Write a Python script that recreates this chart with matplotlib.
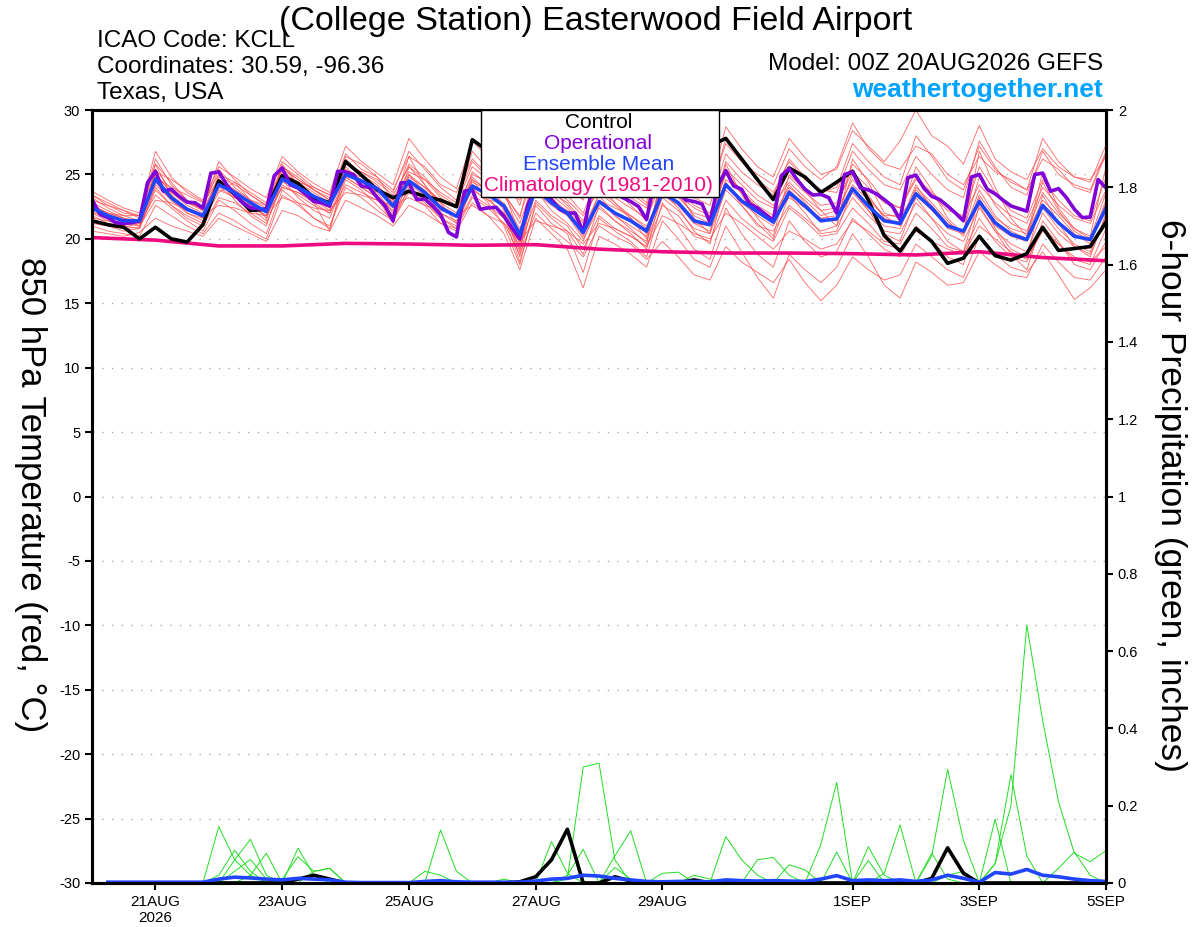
import numpy as np
import pandas as pd
import matplotlib
matplotlib.use("Agg")
import matplotlib.pyplot as plt
from matplotlib.patches import Rectangle

plt.rcParams['font.family'] = ['Liberation Sans', 'DejaVu Sans']
plt.rcParams['axes.unicode_minus'] = False

# 6-hourly times (GEFS), 3-hourly for the operational run, daily climatology
times = pd.date_range('2026-08-20 00:00', periods=65, freq='6h')
times_op = pd.date_range('2026-08-20 00:00', periods=129, freq='3h')
times_clim = pd.date_range('2026-08-20', periods=17, freq='D')

tick_dates = pd.to_datetime(['2026-08-21', '2026-08-23', '2026-08-25', '2026-08-27',
                             '2026-08-29', '2026-09-01', '2026-09-03', '2026-09-05'])
tick_labels = ['21AUG\n2026', '23AUG', '25AUG', '27AUG', '29AUG', '1SEP', '3SEP', '5SEP']

# 850 hPa temperature (C)
control_t = [21.4, 21.1, 20.9, 20.0, 20.9, 20.0, 19.75, 21.1,
             24.5, 23.45, 22.2, 22.3, 24.9, 24.3, 23.2, 22.8,
             26.0, 24.95, 23.8, 23.2, 23.7, 23.3, 23.0, 22.5,
             27.7, 26.8, 25.6, 24.4, 26.2, 25.5, 24.8, 24.0,
             25.6, 24.9, 24.3, 23.8, 26.0, 25.5, 25.8, 27.2,
             27.8, 26.2, 24.6, 23.05, 25.5, 24.8, 23.6, 24.4,
             25.25, 23.0, 20.25, 19.05, 20.8, 19.8, 18.1, 18.5,
             20.2, 18.7, 18.35, 18.85, 20.9, 19.1, 19.25, 19.4,
             21.3]

operational_t = [23.05, 21.9, 21.65, 21.25, 21.2, 21.25, 21.4, 24.35,
                 25.25, 23.7, 23.85, 23.3, 22.85, 22.8, 22.4, 25.1,
                 25.2, 24.2, 23.45, 22.8, 22.4, 22.35, 22.25, 24.9,
                 25.5, 24.2, 23.95, 23.45, 22.9, 22.8, 22.55, 25.25,
                 25.2, 25.0, 24.1, 24.0, 23.2, 22.55, 21.4, 24.35,
                 24.35, 23.05, 23.1, 22.55, 21.9, 20.5, 20.15, 23.7,
                 23.8, 22.3, 22.4, 22.45, 21.75, 20.85, 20.0, 22.6,
                 24.0, 23.8, 23.05, 22.3, 22.0, 22.0, 20.5, 23.6,
                 24.0, 23.9, 23.6, 23.2, 22.9, 22.5, 21.5, 24.5,
                 24.8, 24.0, 23.5, 23.0, 22.9, 22.7, 21.3, 24.1,
                 25.3, 24.1, 23.85, 22.7, 22.4, 21.9, 21.4, 24.9,
                 25.45, 24.6, 23.85, 23.4, 23.45, 23.2, 22.0, 25.0,
                 25.2, 23.95, 23.8, 23.5, 23.05, 22.55, 21.5, 24.75,
                 24.95, 23.95, 23.3, 23.05, 22.55, 22.0, 21.4, 24.8,
                 25.0, 23.85, 23.5, 23.0, 22.55, 22.35, 22.15, 25.0,
                 25.1, 23.7, 23.9, 23.2, 22.3, 21.65, 21.7, 24.6,
                 23.95]

ens_mean_t = [22.4, 21.8, 21.4, 21.4, 24.65, 23.2, 22.3, 21.8,
              24.2, 23.6, 22.8, 22.1, 24.65, 24.0, 23.3, 22.7,
              25.0, 24.5, 23.9, 22.55, 24.5, 23.6, 22.4, 21.75,
              24.1, 23.45, 22.55, 20.35, 23.9, 22.8, 22.0, 20.5,
              22.9, 22.0, 21.4, 20.6, 23.6, 22.8, 21.4, 21.1,
              24.2, 22.95, 22.1, 21.3, 23.6, 22.55, 21.4, 21.55,
              23.9, 22.55, 21.4, 21.2, 23.5, 22.4, 21.0, 20.6,
              22.9, 21.25, 20.35, 19.95, 22.6, 21.25, 20.2, 19.95,
              22.4]

climatology_t = [20.1, 19.9, 19.45, 19.45, 19.65, 19.6, 19.5, 19.55, 19.2,
                 19.0, 18.9, 18.9, 18.85, 18.75, 19.0, 18.55, 18.3]

members_t = [
    [23.7, 23.0, 22.4, 22.0, 26.8, 24.8, 23.6, 22.9, 25.6, 24.8, 23.9, 23.2,
     26.4, 25.2, 24.3, 23.6, 27.2, 26.0, 25.1, 24.2, 27.8, 26.2, 24.8, 23.9,
     27.6, 26.3, 25.0, 22.6, 27.0, 25.4, 24.2, 23.0, 26.6, 25.0, 23.9, 22.8,
     27.4, 26.0, 24.6, 24.0, 28.7, 27.0, 25.6, 24.8, 27.8, 26.3, 25.0, 25.4,
     28.4, 27.2, 26.0, 27.6, 30.0, 28.0, 27.2, 25.8, 28.8, 26.2, 25.2, 24.6,
     27.0, 25.6, 24.8, 24.4, 27.3],
    [23.4, 22.6, 22.0, 21.8, 26.2, 24.2, 23.0, 22.3, 26.0, 24.6, 23.4, 22.6,
     25.6, 24.6, 23.8, 23.0, 26.6, 25.4, 24.8, 23.8, 26.4, 25.6, 24.2, 23.6,
     26.2, 25.0, 24.0, 23.0, 26.4, 25.2, 24.8, 24.0, 25.8, 24.6, 23.6, 22.6,
     26.0, 25.2, 24.4, 23.6, 27.4, 26.0, 25.0, 24.2, 27.0, 25.6, 24.6, 25.6,
     29.0, 27.0, 25.8, 25.4, 27.2, 26.6, 25.0, 24.2, 26.4, 25.2, 24.6, 23.8,
     26.2, 25.4, 24.0, 23.6, 26.6],
    [21.0, 20.6, 20.4, 20.2, 22.6, 21.8, 21.0, 20.4, 22.0, 21.4, 20.6, 20.0,
     23.4, 22.6, 21.6, 21.0, 24.0, 23.2, 22.2, 21.4, 23.6, 22.6, 21.2, 20.6,
     22.8, 21.8, 20.4, 17.6, 21.6, 20.4, 19.2, 16.2, 20.2, 19.6, 18.8, 17.8,
     21.4, 20.0, 18.4, 17.8, 21.0, 19.0, 17.0, 15.4, 18.8, 17.6, 16.6, 17.8,
     20.4, 18.6, 16.4, 15.4, 18.2, 17.4, 16.4, 16.6, 19.0, 18.0, 17.2, 17.0,
     19.6, 18.2, 17.0, 16.8, 18.6],
    [20.6, 20.4, 20.2, 20.5, 21.6, 21.0, 20.6, 20.2, 21.6, 21.0, 20.4, 19.8,
     22.2, 21.8, 21.0, 20.6, 23.0, 22.4, 21.8, 21.0, 22.6, 22.0, 21.2, 20.8,
     23.2, 22.4, 21.2, 18.8, 22.0, 20.8, 19.8, 18.6, 21.0, 20.2, 19.6, 18.4,
     19.8, 18.6, 17.2, 16.8, 19.4, 18.2, 17.4, 16.6, 18.4, 16.6, 15.2, 16.4,
     18.6, 17.6, 16.8, 17.2, 19.6, 18.6, 17.6, 17.0, 20.2, 18.8, 17.8, 17.4,
     19.0, 17.2, 15.3, 16.2, 17.6],
    [22.8, 22.2, 21.6, 21.2, 25.4, 23.8, 22.8, 22.2, 24.8, 24.2, 23.4, 22.6,
     25.4, 24.6, 23.8, 23.2, 25.8, 25.2, 24.4, 23.4, 25.6, 24.6, 23.2, 22.4,
     25.0, 24.4, 23.4, 21.2, 24.8, 23.6, 22.8, 21.4, 24.2, 23.2, 22.4, 21.6,
     24.6, 23.8, 22.6, 22.0, 25.4, 24.2, 23.0, 22.4, 24.8, 23.6, 22.6, 22.8,
     25.2, 24.0, 22.8, 22.4, 24.6, 23.4, 22.2, 21.8, 24.2, 22.8, 21.8, 21.2,
     24.0, 22.6, 21.6, 21.2, 23.8],
    [21.8, 21.2, 20.8, 20.9, 24.0, 22.6, 21.6, 21.0, 23.2, 22.8, 22.0, 21.2,
     24.2, 23.4, 22.6, 22.0, 24.2, 23.6, 23.0, 21.8, 23.8, 22.8, 21.6, 21.0,
     23.4, 22.6, 21.6, 19.4, 23.0, 21.8, 21.0, 19.2, 21.8, 20.8, 20.2, 19.4,
     22.6, 21.8, 20.2, 19.8, 23.0, 21.6, 20.6, 19.8, 22.4, 21.4, 20.2, 20.4,
     22.4, 21.2, 19.8, 19.6, 22.0, 20.8, 19.4, 19.0, 21.6, 19.8, 18.6, 18.2,
     21.0, 19.6, 18.4, 18.0, 20.8],
    [22.0, 21.4, 21.0, 21.6, 25.8, 23.4, 22.0, 21.4, 23.6, 24.4, 23.0, 21.6,
     25.8, 24.2, 22.8, 20.6, 25.4, 24.6, 23.2, 22.4, 26.4, 24.2, 22.8, 21.2,
     24.6, 23.0, 22.0, 19.0, 24.4, 23.4, 22.4, 20.8, 23.4, 21.8, 20.8, 19.6,
     25.2, 23.8, 21.6, 20.4, 25.8, 23.4, 21.6, 20.2, 25.0, 23.8, 22.2, 21.0,
     26.2, 24.4, 22.0, 21.6, 25.6, 23.8, 21.6, 20.4, 26.8, 24.0, 21.6, 20.2,
     25.2, 22.4, 20.8, 20.2, 25.6],
    [23.0, 22.6, 22.2, 21.6, 24.8, 24.0, 23.4, 22.8, 24.6, 23.8, 23.0, 22.6,
     24.8, 24.4, 24.0, 23.4, 26.0, 25.0, 24.2, 22.8, 24.8, 24.0, 23.0, 22.4,
     24.4, 23.8, 22.6, 20.6, 24.2, 23.0, 22.2, 20.6, 23.0, 22.4, 21.8, 21.0,
     23.4, 22.6, 21.2, 21.0, 24.6, 23.6, 22.4, 21.6, 23.2, 22.4, 21.6, 21.8,
     24.2, 23.0, 21.8, 21.0, 24.0, 22.8, 21.4, 20.2, 23.4, 21.6, 20.8, 20.4,
     23.0, 21.8, 20.4, 19.6, 22.8],
    [22.2, 21.6, 21.0, 20.8, 24.2, 23.0, 22.0, 21.6, 25.0, 23.6, 22.4, 21.8,
     24.0, 23.6, 23.0, 22.2, 25.6, 24.4, 23.6, 22.0, 24.2, 23.4, 22.0, 21.4,
     23.8, 23.0, 22.8, 20.8, 23.6, 22.6, 21.8, 20.0, 22.4, 21.4, 20.6, 19.8,
     23.2, 22.2, 20.8, 20.4, 23.8, 22.6, 21.0, 20.6, 22.6, 21.6, 20.6, 21.0,
     23.2, 21.8, 20.6, 20.4, 22.8, 21.6, 20.4, 19.8, 22.4, 20.6, 19.6, 19.0,
     22.0, 20.4, 19.4, 18.8, 21.8],
    [22.6, 22.0, 21.8, 21.4, 25.0, 23.6, 22.6, 22.0, 24.0, 23.2, 22.6, 22.2,
     25.2, 24.4, 23.6, 22.8, 25.2, 24.8, 24.0, 23.0, 25.2, 24.6, 23.6, 22.8,
     25.6, 24.6, 23.4, 21.8, 25.4, 24.4, 23.4, 22.0, 25.0, 23.8, 22.6, 21.4,
     25.4, 24.4, 23.2, 22.6, 26.6, 25.2, 24.2, 23.4, 26.2, 24.8, 23.8, 23.6,
     26.8, 25.4, 24.2, 23.8, 26.4, 25.0, 23.8, 23.2, 27.6, 25.6, 24.0, 23.4,
     26.8, 25.0, 24.2, 23.8, 26.8],
    [21.4, 21.0, 20.9, 21.2, 23.4, 22.4, 21.4, 20.6, 23.0, 22.2, 21.2, 20.4,
     23.8, 22.8, 21.6, 20.8, 24.6, 23.8, 22.6, 21.4, 24.0, 23.0, 21.6, 20.8,
     24.2, 23.2, 21.8, 18.2, 22.6, 21.2, 20.4, 17.4, 21.6, 20.6, 19.8, 18.6,
     22.8, 21.0, 19.2, 18.4, 22.4, 20.4, 18.8, 17.8, 21.4, 19.8, 18.6, 19.0,
     21.6, 20.4, 19.2, 18.6, 21.0, 19.8, 18.6, 18.0, 22.6, 20.6, 18.8, 17.6,
     21.4, 19.8, 18.0, 17.6, 19.8],
    [23.2, 22.4, 21.8, 21.8, 25.8, 24.4, 23.0, 22.2, 24.4, 23.8, 22.8, 22.0,
     25.0, 23.8, 23.0, 22.4, 26.4, 25.8, 24.8, 23.0, 25.8, 24.8, 23.4, 22.6,
     26.8, 25.4, 23.8, 20.2, 25.8, 23.8, 22.6, 21.2, 24.4, 22.8, 21.6, 20.4,
     24.2, 23.2, 22.0, 21.6, 26.0, 24.6, 23.4, 22.6, 24.4, 23.2, 22.2, 22.4,
     25.8, 24.6, 23.0, 22.4, 24.8, 23.6, 22.6, 21.6, 25.6, 23.6, 22.2, 21.6,
     24.6, 23.0, 21.8, 21.4, 24.8],
    [21.6, 21.4, 21.2, 21.0, 23.0, 22.8, 22.2, 21.8, 22.6, 22.4, 22.0, 21.8,
     23.2, 22.8, 22.4, 22.2, 23.6, 23.4, 23.0, 22.6, 23.2, 22.6, 22.2, 21.8,
     22.6, 21.8, 21.2, 19.8, 21.4, 21.0, 20.6, 19.6, 21.2, 20.8, 20.2, 19.4,
     21.8, 21.2, 20.4, 20.0, 22.0, 21.2, 20.2, 19.2, 20.6, 20.0, 19.2, 19.6,
     21.4, 20.6, 19.6, 19.2, 20.6, 19.8, 19.2, 18.8, 21.0, 20.0, 19.0, 18.4,
     20.6, 19.6, 18.6, 18.2, 19.4],
    [22.4, 22.0, 21.6, 21.4, 25.0, 23.6, 22.8, 22.4, 25.4, 24.0, 23.0, 22.4,
     24.4, 24.0, 23.4, 22.8, 26.2, 25.0, 24.0, 22.8, 25.0, 24.0, 22.8, 22.0,
     25.2, 24.2, 22.6, 19.6, 25.0, 24.0, 23.0, 21.8, 23.8, 22.8, 21.8, 20.8,
     24.0, 23.4, 22.4, 21.8, 25.0, 23.8, 22.6, 21.8, 24.0, 23.0, 21.8, 22.2,
     24.6, 23.2, 21.8, 21.8, 23.4, 22.2, 21.0, 20.6, 24.8, 22.6, 21.2, 20.6,
     23.6, 22.0, 20.8, 20.0, 23.6],
    [22.0, 21.8, 21.4, 21.2, 24.4, 23.0, 22.2, 21.8, 24.2, 23.4, 22.4, 21.4,
     25.6, 24.8, 23.8, 23.0, 25.2, 24.2, 23.4, 21.8, 25.6, 24.2, 22.4, 21.8,
     24.6, 23.8, 22.2, 18.6, 23.8, 22.2, 21.2, 19.8, 23.0, 21.8, 21.0, 20.2,
     24.8, 23.4, 21.8, 21.2, 25.2, 23.6, 22.4, 21.6, 24.2, 22.8, 21.4, 21.6,
     25.0, 23.4, 21.6, 21.2, 24.2, 22.4, 20.8, 20.4, 23.8, 21.8, 20.6, 20.0,
     24.4, 22.2, 20.6, 19.8, 23.0],
    [21.2, 21.0, 20.6, 20.8, 23.8, 22.6, 21.8, 21.2, 24.6, 23.0, 21.8, 21.0,
     24.6, 23.2, 22.2, 21.6, 24.8, 24.0, 23.2, 21.2, 25.0, 23.6, 22.0, 21.2,
     24.0, 22.8, 21.0, 18.0, 22.8, 21.6, 20.6, 18.8, 22.6, 21.4, 20.4, 19.2,
     23.6, 22.4, 20.6, 19.6, 24.4, 22.6, 21.2, 20.0, 23.4, 22.0, 20.4, 20.6,
     23.8, 22.2, 20.4, 19.8, 23.2, 21.6, 19.8, 19.0, 23.2, 20.8, 19.2, 18.6,
     23.4, 21.2, 19.4, 18.6, 22.0],
    [23.4, 22.8, 22.2, 21.8, 25.2, 24.6, 23.8, 23.0, 25.0, 24.4, 23.6, 22.8,
     26.0, 25.0, 24.0, 23.4, 25.8, 25.2, 24.6, 23.6, 26.8, 25.4, 24.0, 23.0,
     26.0, 24.8, 23.6, 21.6, 26.8, 25.6, 24.6, 23.4, 25.4, 24.0, 23.2, 22.4,
     26.6, 25.0, 23.8, 23.2, 27.8, 26.0, 24.6, 23.6, 26.0, 24.6, 23.6, 24.0,
     27.4, 26.0, 24.8, 24.2, 28.0, 26.4, 24.6, 23.8, 27.2, 25.4, 24.4, 23.8,
     27.8, 26.0, 24.8, 24.6, 26.4],
    [22.6, 22.0, 21.6, 21.0, 24.6, 23.4, 22.4, 21.6, 23.8, 23.2, 22.6, 21.8,
     24.0, 23.6, 22.8, 22.0, 24.8, 24.0, 23.2, 22.2, 24.6, 23.8, 22.6, 21.8,
     24.8, 23.6, 22.4, 19.2, 24.6, 23.2, 22.0, 20.2, 23.6, 22.6, 21.6, 20.0,
     23.8, 22.8, 21.2, 20.6, 24.2, 22.8, 21.8, 21.0, 23.8, 22.6, 21.6, 21.4,
     23.6, 22.2, 21.0, 20.8, 23.8, 22.6, 21.2, 20.6, 22.8, 21.0, 20.2, 19.8,
     22.4, 20.8, 19.6, 19.0, 21.6],
]

# 6-hour precipitation (inches), one value per 6-hour step from step 1 to 64;
# members are stored as {step: amount}, all other steps are 0
control_p = {13: 0.01, 14: 0.02, 15: 0.01, 27: 0.003, 28: 0.016, 29: 0.06,
             30: 0.139, 33: 0.016, 34: 0.005, 38: 0.008, 53: 0.012, 54: 0.091,
             55: 0.025}
ens_mean_p = [0.002, 0.002, 0.002, 0.002, 0.002, 0.002, 0.002, 0.01,
              0.015, 0.013, 0.01, 0.008, 0.012, 0.01, 0.008, 0.002,
              0.001, 0.001, 0.001, 0.001, 0.004, 0.006, 0.003, 0.002,
              0.002, 0.002, 0.002, 0.005, 0.01, 0.012, 0.02, 0.018,
              0.012, 0.008, 0.004, 0.003, 0.004, 0.004, 0.003, 0.008,
              0.006, 0.005, 0.006, 0.005, 0.004, 0.01, 0.019, 0.006,
              0.008, 0.006, 0.008, 0.004, 0.008, 0.02, 0.012, 0.002,
              0.027, 0.023, 0.035, 0.02, 0.016, 0.01, 0.006, 0.004]
members_p = [
    {8: 0.146, 9: 0.06, 10: 0.02, 22: 0.137, 23: 0.03, 40: 0.12, 41: 0.06,
     42: 0.02, 46: 0.10, 47: 0.26},
    {9: 0.06, 10: 0.113, 11: 0.02, 29: 0.107, 30: 0.025, 49: 0.094, 50: 0.02,
     57: 0.05, 58: 0.2, 59: 0.667, 60: 0.42, 61: 0.21, 62: 0.077, 63: 0.055,
     64: 0.084},
    {8: 0.02, 9: 0.085, 10: 0.03, 30: 0.01, 31: 0.30, 32: 0.31, 33: 0.06,
     53: 0.07, 54: 0.294, 55: 0.11},
    {10: 0.02, 11: 0.077, 30: 0.02, 31: 0.087, 50: 0.025, 51: 0.15,
     57: 0.05, 58: 0.28, 59: 0.07},
    {13: 0.09, 14: 0.02, 33: 0.07, 34: 0.135, 42: 0.06, 43: 0.066, 44: 0.02,
     57: 0.165},
    {12: 0.01, 13: 0.068, 14: 0.03, 15: 0.038, 33: 0.04, 34: 0.01, 36: 0.025,
     37: 0.028, 44: 0.047, 45: 0.034, 61: 0.038, 62: 0.08, 63: 0.02},
    {9: 0.03, 10: 0.061, 11: 0.01, 21: 0.03, 22: 0.02, 47: 0.08, 49: 0.058,
     53: 0.077, 54: 0.01},
    {14: 0.03, 15: 0.038, 26: 0.01, 38: 0.02, 39: 0.01, 54: 0.02, 55: 0.03},
]


def steps_to_series(amounts):
    values = np.zeros(64)
    for step, amount in amounts.items():
        values[step - 1] = amount
    return values


fig = plt.figure(figsize=(12, 9.27), dpi=100)
ax = fig.add_axes([0.0767, 0.0475, 0.845, 0.8338])
ax2 = ax.twinx()

for m in members_t:
    ax.plot(times, m, color='#ff4b4b', lw=0.6, alpha=0.85)
ax.plot(times_clim, climatology_t, color='#f00a80', lw=2.6)
ax.plot(times, control_t, color='black', lw=2.6)
ax.plot(times_op, operational_t, color='#8000d8', lw=2.6)
ax.plot(times, ens_mean_t, color='#2145ff', lw=2.6)

p_times = times[1:]
for m in members_p:
    ax2.plot(p_times, steps_to_series(m), color='#22dd22', lw=0.7)
ax2.plot(p_times, steps_to_series(control_p), color='black', lw=2.6)
ax2.plot(p_times, ens_mean_p, color='#2145ff', lw=2.6)

ax.set_ylim(-30, 30)
ax.set_yticks(np.arange(-30, 31, 5))
ax2.set_ylim(0, 2)
ax2.set_yticks(np.arange(0, 2.01, 0.2))
ax2.set_yticklabels(['%g' % v for v in np.round(np.arange(0, 2.01, 0.2), 1)])
ax.set_xlim(times[0], times[-1])
ax.set_xticks(tick_dates)
ax.set_xticklabels(tick_labels)

for y in range(-25, 30, 5):
    ax.axhline(y, color='#aaaaaa', lw=1.0, ls=(0, (1, 6)), zorder=0)

for a in (ax, ax2):
    for s in a.spines.values():
        s.set_linewidth(2.2)
    a.tick_params(labelsize=10.5, width=1.5, length=5, direction='out')
ax.tick_params(axis='x', labelsize=11)

fig.text(0.025, 0.466, '850 hPa Temperature (red, °C)', rotation=270,
         ha='center', va='center', fontsize=25)
fig.text(0.975, 0.466, '6-hour Precipitation (green, inches)', rotation=270,
         ha='center', va='center', fontsize=25.5)

fig.text(0.496, 0.977, '(College Station) Easterwood Field Airport',
         ha='center', va='center', fontsize=24.5)
fig.text(0.081, 0.956, 'ICAO Code: KCLL', ha='left', va='center', fontsize=17.5)
fig.text(0.081, 0.928, 'Coordinates: 30.59, -96.36', ha='left', va='center', fontsize=17.5)
fig.text(0.081, 0.9, 'Texas, USA', ha='left', va='center', fontsize=17.5)
fig.text(0.919, 0.931, 'Model: 00Z 20AUG2026 GEFS', ha='right', va='center', fontsize=17.5)
fig.text(0.919, 0.903, 'weathertogether.net', ha='right', va='center', fontsize=19,
         color='#00a2ff', fontweight='bold')

# legend box over the plot
fig.add_artist(Rectangle((0.401, 0.7875), 0.198, 0.0938, transform=fig.transFigure,
                         facecolor='white', edgecolor='black', lw=1.0, zorder=5))
legend_items = [('Control', 'black'), ('Operational', '#8000d8'),
                ('Ensemble Mean', '#2145ff'), ('Climatology (1981-2010)', '#f00a80')]
for k, (label, col) in enumerate(legend_items):
    fig.text(0.4985, 0.868 - k * 0.0228, label, color=col, ha='center', va='center',
             fontsize=15, zorder=6)

fig.savefig('out.png', dpi=100)
